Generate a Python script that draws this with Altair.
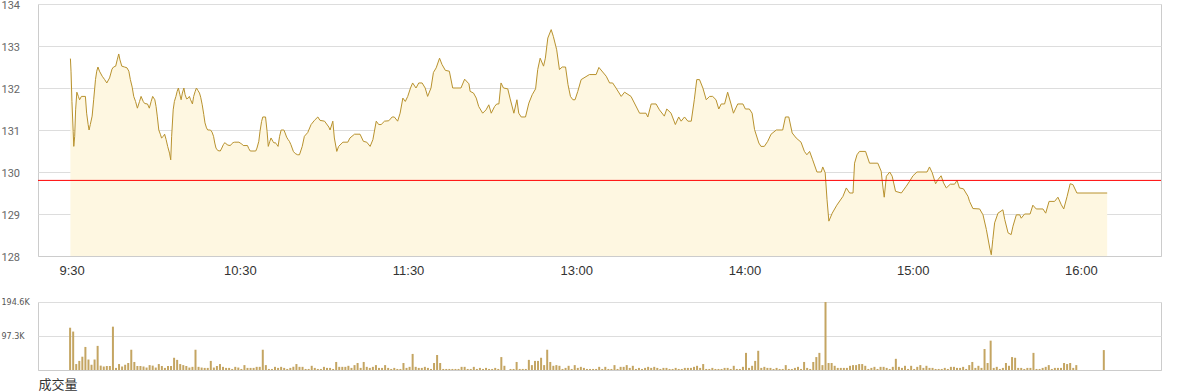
import altair as alt
import pandas as pd

# ---- data ----
price_idx = [0.1, 0.3, 0.6, 1.0, 1.2, 1.5, 1.8, 2.2, 2.7, 3.1, 3.7, 5.0, 5.4, 5.9, 6.2, 6.6, 7.2, 7.7, 8.3, 8.7,
             9.1, 9.6, 10.5, 11.3, 12.0, 12.9, 13.7, 14.2, 14.9, 15.4, 15.9, 16.3, 16.9, 17.8, 18.6, 19.2, 19.7,
             20.3, 20.8, 21.4, 22.0, 22.7, 23.2, 23.9, 24.4, 25.3, 25.9, 26.5, 27.0, 27.7, 28.1, 28.5, 29.0,
             29.5, 29.9, 30.5, 30.9, 31.4, 31.9, 32.5, 32.9, 33.2, 33.7, 34.1, 34.6, 35.0, 35.4, 35.9, 36.3,
             36.7, 37.2, 37.6, 38.1, 38.6, 39.0, 39.4, 40.0, 40.4, 40.9, 41.3, 41.8, 42.3, 42.7, 43.2, 43.7,
             44.1, 44.6, 45.0, 45.9, 46.4, 46.9, 47.3, 47.7, 48.3, 49.1, 49.6, 50.1, 50.6, 51.0, 51.6, 52.4,
             52.8, 53.3, 53.8, 55.2, 55.6, 56.1, 56.6, 58.0, 58.4, 58.9, 60.7, 61.1, 61.7, 62.1, 62.6, 63.0,
             63.9, 64.4, 64.8, 65.3, 65.7, 66.3, 66.7, 67.1, 67.6, 68.0, 68.5, 69.0, 69.9, 70.3, 70.8, 71.3,
             71.7, 72.2, 72.6, 73.0, 73.6, 74.4,
             75.0, 75.9, 76.6, 77.7, 78.8, 79.9, 81.0, 81.7, 83.2, 84.6, 85.0, 85.9, 86.4, 87.2, 87.8, 89.2,
             90.8, 91.5, 93.0, 94.8, 95.9, 97.0, 98.1, 99.0, 100.1, 100.9, 101.7, 102.8, 104.2, 105.3, 106.0,
             107.1, 107.9, 108.8, 109.6, 110.4, 111.3, 112.0, 113.1, 114.0, 115.1, 116.1, 116.9, 118.0, 118.8,
             119.7, 120.8, 121.6, 122.7, 124.0, 125.1, 126.2, 127.8, 129.0, 130.4, 130.8, 131.9, 132.8, 133.6,
             134.9, 136.0, 136.9, 137.7, 138.8, 139.5, 140.2, 140.9, 141.7, 143.1, 143.9, 145.1, 146.1, 146.7,
             147.5, 148.9, 150.0, 151.1, 152.2, 152.9, 153.7, 154.8, 155.4, 156.2, 157.3, 158.0, 159.1, 160.0,
             160.9, 162.0, 162.8, 163.6, 164.4, 165.1, 166.0,
             167.1, 169.8, 172.0, 172.9, 175.3, 176.4, 177.4, 178.5, 180.2, 181.3, 183.4, 186.2, 188.3, 188.9,
             190.0, 191.6, 192.7, 194.3, 195.1, 196.5, 197.9, 199.0, 199.8, 200.9, 202.0, 203.1, 204.1, 204.9,
             205.8, 206.9, 208.0, 209.1, 210.1, 211.2, 212.1, 212.9, 214.0, 215.0, 216.1, 216.9, 218.3, 220.0,
             220.8, 222.1, 223.0, 223.8, 225.2, 225.9, 227.0, 228.1, 229.2, 230.9, 233.0, 233.9, 235.0, 236.1,
             237.4, 239.0, 240.1, 240.9, 241.8, 242.8, 244.2, 245.6, 246.1, 246.9, 247.5, 248.1, 249.2, 250.7,
             252.7, 253.8, 254.9, 256.0, 256.5, 257.3, 258.1, 260.1, 261.4, 264.1, 265.2, 265.8, 266.2, 266.9,
             268.0, 268.8, 269.9, 271.8, 273.4, 274.5, 275.6, 276.9, 280.2, 281.0, 281.9, 283.0, 283.8, 284.8,
             285.6, 286.5, 287.8, 289.2, 290.0, 290.8, 292.1, 293.6, 294.1, 295.2, 297.4, 298.5, 299.6, 300.7,
             301.2, 301.7, 302.3, 303.4, 305.0, 305.6, 306.7, 307.7, 308.3, 309.4, 310.5, 311.0, 312.1, 313.9,
             314.8, 315.9, 318.1, 319.0, 320.1, 321.9, 323.0, 324.1, 324.9, 326.0, 327.0, 327.9, 329.2, 339.1]

price = [132.7, 132.4, 131.68, 130.97, 130.61, 130.85, 131.48, 131.9, 131.8, 131.72, 131.8, 131.8, 131.4, 131.13,
         131.0, 131.13, 131.33, 131.72, 132.2, 132.4, 132.5, 132.4, 132.28, 132.2, 132.12, 132.24, 132.45, 132.5,
         132.52, 132.67, 132.81, 132.67, 132.52, 132.5, 132.48, 132.4, 132.2, 132.02, 131.8, 131.68, 131.52,
         131.68, 131.8, 131.68, 131.63, 131.62, 131.52, 131.68, 131.8, 131.72, 131.56, 131.33, 131.0, 130.9,
         130.81, 130.85, 130.9, 130.77, 130.61, 130.45, 130.29, 130.85, 131.48, 131.68, 131.8, 131.92, 132.0,
         131.84, 131.72, 131.88, 132.0, 131.84, 131.74, 131.76, 131.8, 131.72, 131.62, 131.8, 131.92, 132.0,
         131.94, 131.88, 131.78, 131.6, 131.37, 131.17, 131.05, 131.0, 131.0, 130.95, 130.85, 130.69, 130.57,
         130.51, 130.5, 130.57, 130.65, 130.7, 130.67, 130.64, 130.63, 130.67, 130.7, 130.71, 130.71, 130.69,
         130.67, 130.63, 130.63, 130.56, 130.5, 130.5, 130.57, 130.73, 130.97, 131.2, 131.31, 131.31, 130.97,
         130.61, 130.73, 130.81, 130.73, 130.69, 130.7, 130.65, 130.61, 130.85, 131.0, 131.0, 130.93, 130.83,
         130.77, 130.73, 130.65, 130.57, 130.49, 130.44, 130.41,
         130.41, 130.61, 130.85, 130.94, 131.13, 131.23, 131.31, 131.23, 131.21, 131.07, 131.0, 131.21, 130.81,
         130.49, 130.61, 130.71, 130.71, 130.81, 130.9, 130.9, 130.73, 130.71, 130.61, 130.77, 131.21, 131.13,
         131.13, 131.21, 131.22, 131.31, 131.31, 131.21, 131.4, 131.76, 131.68, 131.8, 132.0, 132.12, 132.0,
         132.12, 132.12, 132.0, 131.8, 132.0, 132.37, 132.48, 132.71, 132.56, 132.42, 132.4, 132.0, 132.0,
         132.0, 132.21, 132.1, 131.92, 131.88, 131.76, 131.56, 131.4, 131.48, 131.6, 131.4, 131.56, 131.62,
         131.62, 132.12, 132.0, 131.98, 131.74, 131.4, 131.72, 131.4, 131.31, 131.31, 131.64, 131.84, 131.98,
         132.44, 132.71, 132.52, 132.71, 133.19, 133.39, 133.23, 132.91, 132.44, 132.5, 132.5, 132.08, 131.8,
         131.72, 131.72, 131.92,
         132.2, 132.32, 132.32, 132.49, 132.28, 132.12, 132.12, 132.0, 131.8, 131.9, 131.8, 131.4, 131.4,
         131.31, 131.62, 131.62, 131.48, 131.33, 131.5, 131.4, 131.13, 131.31, 131.21, 131.31, 131.21, 131.21,
         131.72, 132.2, 132.2, 132.0, 131.72, 131.8, 131.8, 131.72, 131.5, 131.62, 131.62, 131.9, 131.62,
         131.4, 131.62, 131.62, 131.5, 131.5, 131.4, 131.01, 130.69, 130.61, 130.61, 130.73, 130.9, 131.0,
         131.0, 131.31, 131.31, 130.93, 130.81, 130.71, 130.49, 130.41, 130.49, 130.29, 130.0, 130.0, 130.12,
         129.98, 129.34, 128.83, 129.02, 129.21,
         129.42, 129.62, 129.5, 129.5, 130.21, 130.41, 130.49, 130.49, 130.21, 130.21, 130.02, 129.62, 129.4,
         129.9, 130.0, 129.9, 129.54, 129.5, 129.66, 129.78, 129.91, 130.0, 130.0, 130.12, 129.98, 129.72,
         129.82, 129.91, 129.74, 129.62, 129.71, 129.71, 129.8, 129.62, 129.6, 129.42, 129.3, 129.13, 129.12,
         128.98, 128.63, 128.19, 128.03, 128.39, 128.79, 129.02, 129.1, 128.87, 128.55, 128.51, 128.71, 128.98,
         128.98, 128.9, 129.0, 129.0, 129.21, 129.12, 129.12, 129.02, 129.3, 129.3, 129.4, 129.22, 129.12,
         129.42, 129.72, 129.7, 129.5, 129.5]

prev_close = 129.8
price_floor = 128

# volume in thousands, one bar per minute
volume_k = [121, 110, 17, 26, 38, 66, 30, 15, 30, 69, 12.5, 10, 11.5, 11.5, 124, 6, 17, 10, 15, 20,
            58, 23, 11.5, 11.5, 10, 7, 14, 12.5, 7, 17, 11.5, 6, 11.5, 11.5, 35, 29, 17, 14, 11.5, 7,
            9, 58, 9, 7, 6, 6, 26, 7, 11.5, 17, 9, 6, 6, 3, 9, 7, 3, 14, 6, 6,
            6, 9, 9, 58, 14, 3, 3, 9, 6, 9, 6, 3, 6, 9, 17, 9,
            9, 3, 3, 12, 6, 3, 3, 9, 6, 6, 3, 23, 9, 9, 9, 12, 6, 14, 20, 6,
            23, 9, 6, 9, 14, 6, 6, 14, 6, 3, 6, 3, 3, 20, 6, 9, 46, 9, 6, 6,
            9, 6, 3, 20, 43, 20, 3, 3, 3, 3, 3, 3, 9, 9, 3, 3, 9, 3, 6, 3,
            6, 3, 3, 6, 3, 37, 12, 0, 3, 3, 23, 3, 3, 3, 29, 14, 26, 26, 35, 14,
            58, 23, 12, 14, 12, 3, 6, 12, 3, 14, 6,
            9, 6, 3, 3, 3, 3, 9, 3, 9, 3, 3, 14, 3, 9, 9, 14, 6, 12, 3, 6,
            3, 6, 9, 6, 9, 6, 3, 6, 6, 3, 3, 6, 3, 3, 6, 6, 6, 9, 12, 6,
            17, 3, 3, 6, 3, 3, 3, 6, 6, 3, 12, 3, 3, 9, 49, 6, 12, 26, 55, 6,
            9, 6, 6, 3, 6, 3, 3, 14, 3, 3, 6, 9, 3, 23, 6, 3, 23, 37, 49, 14,
            194.6, 20, 20, 12, 6,
            6, 6, 6, 12, 14, 14, 17, 17, 12, 3, 6, 9, 3, 9, 9, 6, 3, 9, 32, 9,
            6, 12, 3, 12, 3, 9, 14, 6, 12, 6, 6, 3, 3, 3, 6, 3, 9, 9, 6, 6,
            9, 3, 14, 23, 6, 12, 6, 60, 20, 84, 6, 9, 3, 6, 20, 12, 37, 35, 6, 6,
            3, 6, 6, 49, 3, 3, 6, 9, 14, 3, 6, 6, 6, 20, 17, 20, 6, 14,
            0, 0, 0, 0, 0, 0, 0, 0, 57]

tick_idx = [0.5, 55.5, 110.5, 165.5, 220.5, 275.5, 330.5]
tick_labels = ["9:30", "10:30", "11:30", "13:00", "14:00", "15:00", "16:00"]
price_ticks = [128, 129, 130, 131, 132, 133, 134]
vol_ticks = [97.3, 194.6]

# ---- tables ----
price_df = pd.DataFrame({"i": price_idx, "p": price})
vol_df = pd.DataFrame({"i": list(range(len(volume_k))), "v": volume_k})
ref_df = pd.DataFrame({"y": [prev_close]})

label_map = "{" + ",".join(f"'{v}':'{l}'" for v, l in zip(tick_idx, tick_labels)) + "}[datum.value]"

x_scale = alt.Scale(domain=[-10.5, 356.7], nice=False, zero=False, padding=0)
y_scale = alt.Scale(domain=[128, 134], nice=False, zero=False)
W = 1123

x_axis_top = alt.Axis(values=tick_idx, labelExpr=label_map, grid=False, ticks=False, tickSize=0,
                      domain=True, domainColor="#cccccc", labelPadding=8, labelFontSize=13,
                      labelFont="Liberation Sans", labelColor="#333333", labelOverlap=False, title=None)
y_axis_top = alt.Axis(values=price_ticks, grid=True, gridColor="#dddddd", ticks=False, tickSize=0,
                      domain=False, labelAlign="left", labelPadding=37, labelOffset=1, labelFontSize=11,
                      labelFont="Roboto", labelColor="#666666", title=None)

base = alt.Chart(price_df)
area = base.mark_area(color="#FEF7E1", opacity=1).encode(
    x=alt.X("i:Q", scale=x_scale, axis=x_axis_top),
    y=alt.Y("p:Q", scale=y_scale, axis=y_axis_top),
    y2=alt.datum(price_floor),
)
line = base.mark_line(color="#B8922E", strokeWidth=1).encode(x="i:Q", y="p:Q")
rule = alt.Chart(ref_df).mark_rule(color="#ff0000", stroke="#ff0000", strokeWidth=1).encode(y="y:Q")

top = alt.layer(area, line, rule).properties(width=W, height=252)

x_axis_vol = alt.Axis(labels=False, ticks=False, tickSize=0, grid=False, domain=True, domainColor="#cccccc",
                      title="成交量", titleAnchor="start", titleAlign="left", titleBaseline="top",
                      titlePadding=8, titleFontSize=13, titleFontWeight="normal",
                      titleFont="Noto Sans CJK SC", titleColor="#333333")
y_axis_vol = alt.Axis(values=vol_ticks, labelExpr="format(datum.value, '.1f') + 'K'", grid=True,
                      gridColor="#dddddd", ticks=False, tickSize=0, domain=False, labelAlign="left",
                      labelPadding=37, labelFontSize=8, labelFont="DejaVu Sans", labelColor="#555555",
                      title=None)

bars = alt.Chart(vol_df).mark_bar(color="#C4A562", size=2).encode(
    x=alt.X("i:Q", scale=x_scale, axis=x_axis_vol),
    y=alt.Y("v:Q", scale=alt.Scale(domain=[0, 194.6], nice=False), axis=y_axis_vol),
).properties(width=W, height=68)

chart = alt.vconcat(top, bars, spacing=46, bounds="flush").properties(
    padding={"left": 0, "top": -2, "right": 5, "bottom": 0}
).configure_view(stroke="#cccccc", strokeWidth=1)

chart.save("out.html", embed_options={"renderer": "svg", "actions": False})
